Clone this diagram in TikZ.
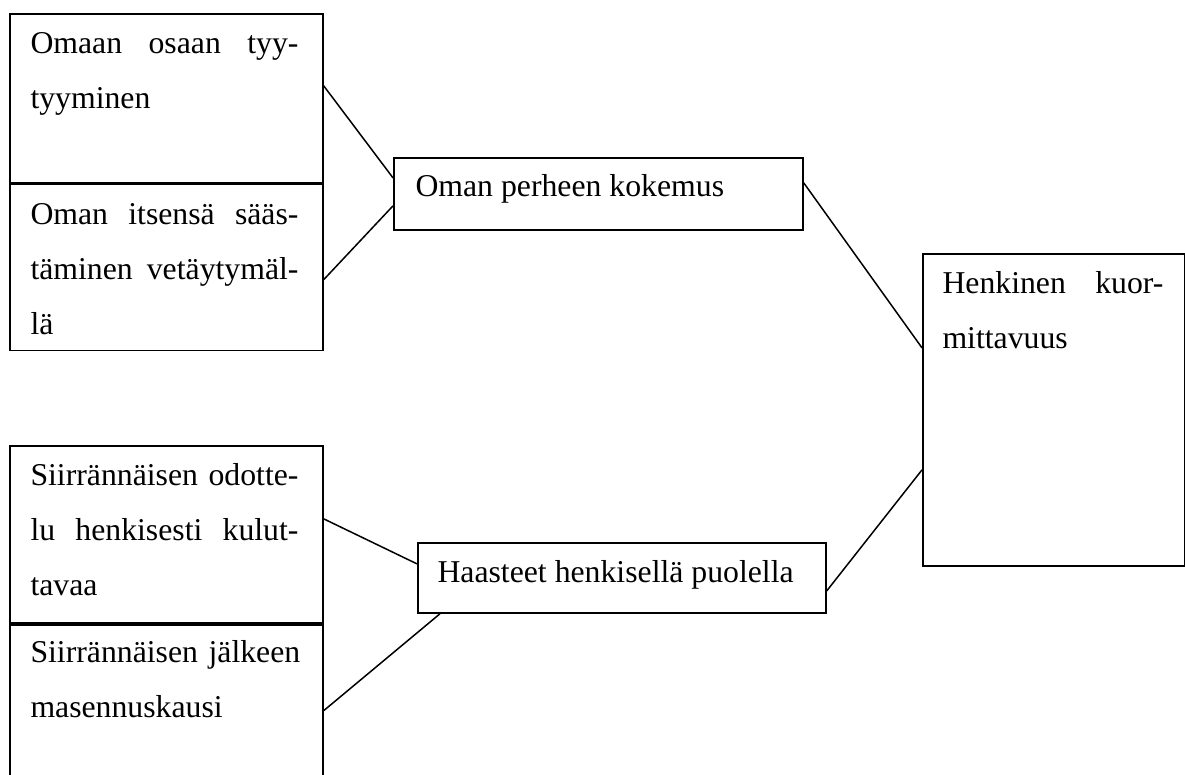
\documentclass[tikz,border=0pt]{standalone}
\usepackage{fontspec}
\setmainfont{Liberation Serif}
\usetikzlibrary{positioning}
% justified line: spaces stretch to the given width
\newcommand{\jl}[2][107.2pt]{\leavevmode{\spaceskip=0.25em plus 1fil\relax\hbox to #1{#2}}}

\begin{document}
\begin{tikzpicture}[x=1pt,y=1pt,
        box/.style={draw,line width=0.7pt,inner sep=0pt,anchor=north west},
        txt/.style={inner sep=0pt,anchor=north west,align=left,
            font=\fontsize{12.7}{22}\selectfont},
        link/.style={line width=0.6pt}]
    \clip (0,0) rectangle (474,-310);
    % left boxes, top pair
    \node[box,minimum width=125.2pt,minimum height=67.6pt] (a1) at (3.6,-5.2) {};
    \node[box,minimum width=125.2pt,minimum height=66.4pt,below=0pt of a1] (a2) {};
    % left boxes, bottom pair
    \node[box,minimum width=125.2pt,minimum height=70.8pt] (b1) at (3.6,-178) {};
    \node[box,minimum width=125.2pt,minimum height=68.8pt,below=0pt of b1] (b2) {};
    % middle and right
    \node[box,minimum width=163.6pt,minimum height=28.8pt] (per) at (157.2,-62.8) {};
    \node[box,minimum width=163.2pt,minimum height=28pt] (hs) at (166.8,-216.8) {};
    \node[box,minimum width=104.8pt,minimum height=124.8pt] (hk) at (368.8,-101.2) {};

    \node[txt,text width=110pt,below right=0.6pt and 8.4pt of a1.north west] (a1t)
        {\strut\jl{Omaan osaan tyy-}\\tyyminen};
    \node[txt,text width=110pt,below right=0.6pt and 8.4pt of a2.north west] (a2t)
        {\strut\jl{Oman itsensä sääs-}\\\jl{täminen vetäytymäl-}\\lä};
    \node[txt,text width=110pt,below right=0.6pt and 8.4pt of b1.north west] (b1t)
        {\strut\jl{Siirrännäisen odotte-}\\\jl{lu henkisesti kulut-}\\tavaa};
    \node[txt,text width=110pt,below right=0pt and 8.4pt of b2.north west] (b2t)
        {\strut\mbox{Siirrännäisen jälkeen}\\masennuskausi};
    \node[txt,below right=0.4pt and 8.8pt of per.north west] (pert)
        {\strut Oman perheen kokemus};
    \node[txt,below right=0.6pt and 8pt of hs.north west] (hst)
        {\strut Haasteet henkisellä puolella};
    \node[txt,text width=90pt,below right=0.6pt and 8pt of hk.north west] (hkt)
        {\strut\jl[88.4pt]{Henkinen kuor-}\\mittavuus};

    \draw[link] ([yshift=5pt]a1.east) -- ([yshift=6.4pt]per.west);
    \draw[link] ([yshift=-4.8pt]a2.east) -- ([yshift=-4.8pt]per.west);
    \draw[link] ([yshift=4.4pt]per.east) -- ([yshift=24.8pt]hk.west);
    \draw[link] ([yshift=-5.2pt]hs.east) -- ([yshift=-24pt]hk.west);
    \draw[link] ([yshift=6.2pt]b1.east) -- ([yshift=5.6pt]hs.west);
    \draw[link] (b2.east) -- ([xshift=9.2pt]hs.south west);
\end{tikzpicture}
\end{document}
